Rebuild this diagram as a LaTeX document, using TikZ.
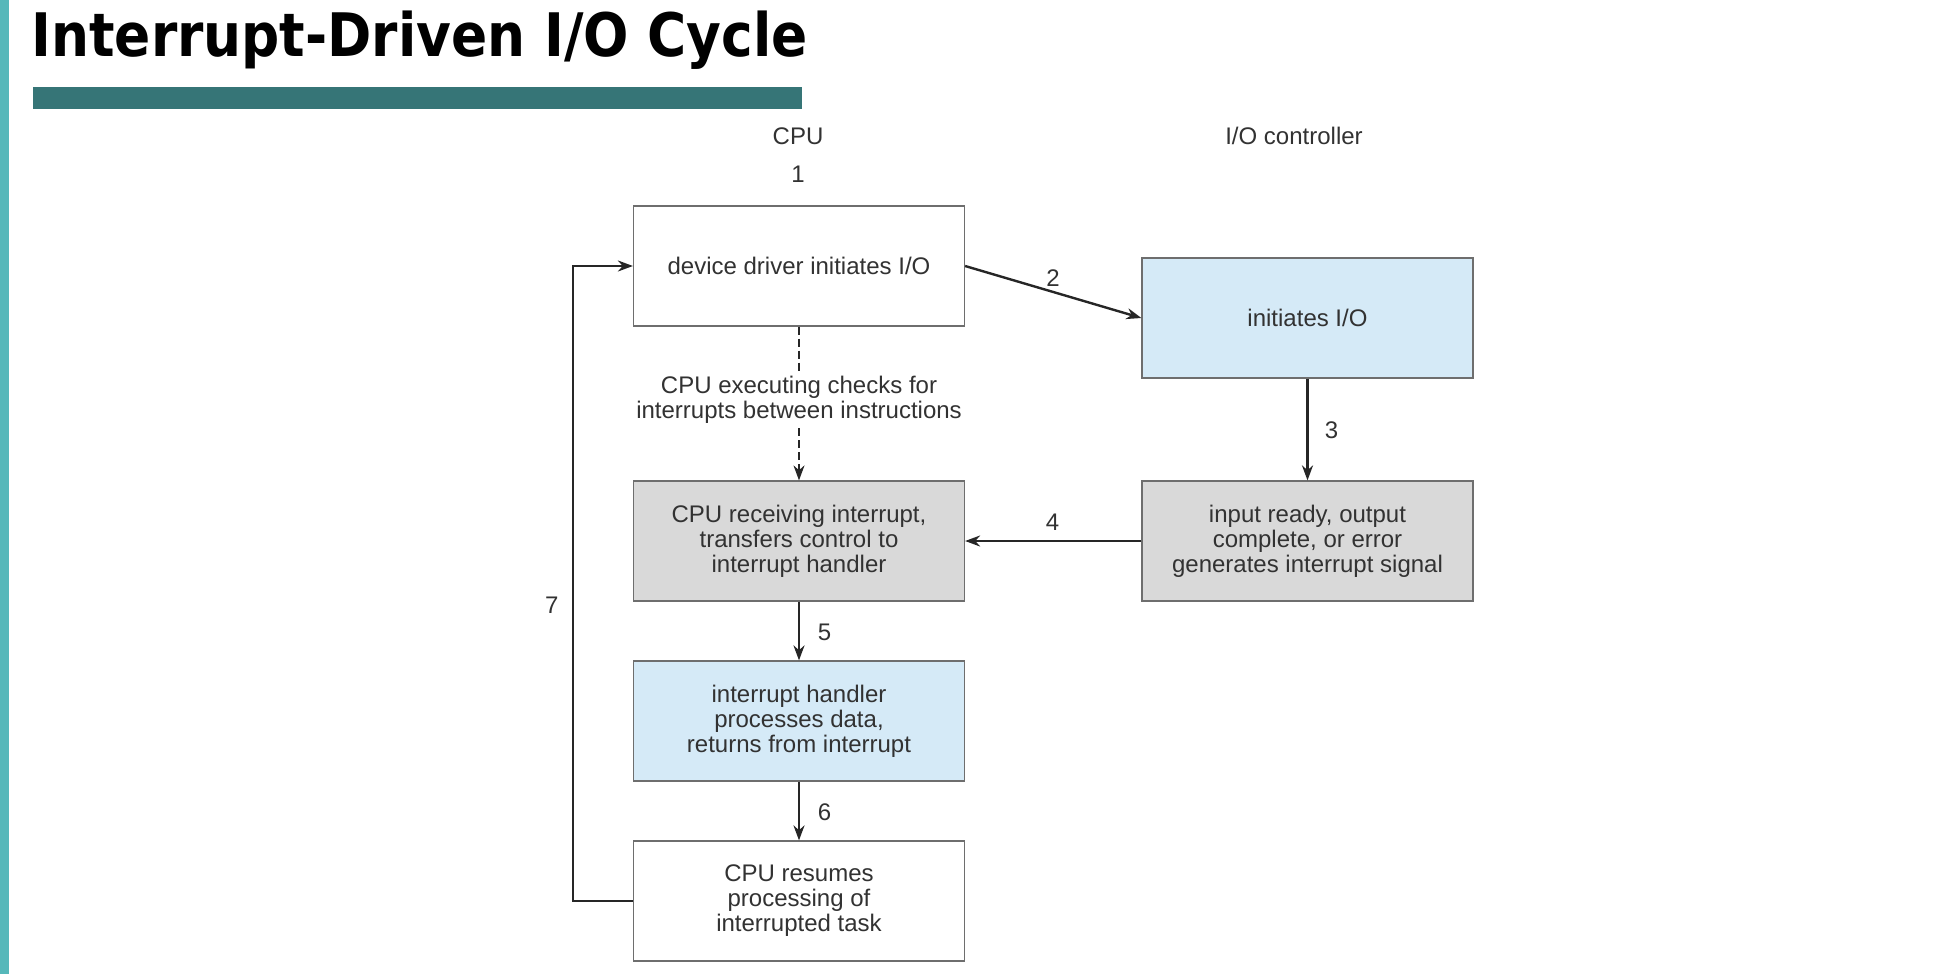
\documentclass[tikz,border=0pt]{standalone}
\usepackage{fontspec}
\setmainfont{Liberation Sans}
\newfontfamily\titlefont{DejaVu Sans}
\usetikzlibrary{arrows.meta}
\definecolor{barteal}{RGB}{54,117,119}
\definecolor{sideteal}{RGB}{86,184,186}
\definecolor{boxblue}{RGB}{213,234,247}
\definecolor{boxgray}{RGB}{217,217,217}
\definecolor{boxline}{RGB}{110,110,110}
\definecolor{txt}{RGB}{50,50,50}

\begin{document}
\begin{tikzpicture}[x=0.5pt,y=-0.5pt,
	stepbox/.style={draw=boxline,line width=0.6pt,minimum width=165.5pt,minimum height=60pt,inner sep=0,align=center,text=txt,font=\fontsize{12}{12.5}\selectfont},
	caption/.style={inner sep=0,text=txt,font=\fontsize{12}{12.5}\selectfont},
	arrow/.style={line width=1.2pt,draw=black!85,-{Stealth[length=7.5pt,width=5.5pt]}}]
	\useasboundingbox (0,0) rectangle (1944,974);
	\fill[sideteal] (0,0) rectangle (9,974);
	\node[anchor=base west,inner sep=0,font=\titlefont\bfseries\fontsize{30}{30}\selectfont] (title) at (31,57) {\scalebox{0.89}[1]{Interrupt-Driven I/O Cycle}};
	\fill[barteal] (33,87) rectangle (802,109);
	\node[caption] (cpu) at (798,136) {CPU};
	\node[caption] (io) at (1294,136) {I/O controller};
	\node[caption] (n1) at (798,174) {1};
	\node[stepbox,fill=white] (1) at (799,266) {device driver initiates I/O};
	\node[stepbox,fill=boxblue] (2) at (1307.5,318) {initiates I/O};
	\node[stepbox,fill=boxgray] (3) at (1307.5,541) {input ready, output\\complete, or error\\generates interrupt signal};
	\node[stepbox,fill=boxgray] (4) at (799,541) {CPU receiving interrupt,\\transfers control to\\interrupt handler};
	\node[stepbox,fill=boxblue] (5) at (799,721) {interrupt handler\\processes data,\\returns from interrupt};
	\node[stepbox,fill=white] (6) at (799,901) {CPU resumes\\processing of\\interrupted task};
	\node[caption,align=center,inner sep=2pt] (checks) at (799,400) {CPU executing checks for\\interrupts between instructions};
	\coordinate (loop) at (573,901);
	\draw[arrow] (1.east) -- (2.west);
	\draw[arrow] (2.south) -- (3.north);
	\draw[arrow] (3.west) -- (4.east);
	\draw[arrow] (4.south) -- (5.north);
	\draw[arrow] (5.south) -- (6.north);
	\draw[arrow] (6.west) -- (loop) |- (1.west);
	\draw[line width=0.9pt,draw=black!85,dash pattern=on 4pt off 2pt] (1.south) -- (checks.north);
	\draw[arrow,line width=0.9pt,dash pattern=on 4pt off 2pt] (checks.south) -- (4.north);
	\node[caption] (l2) at (1053,278) {2};
	\node[caption] (l3) at (1331.5,430) {3};
	\node[caption] (l4) at (1052.6,522) {4};
	\node[caption] (l5) at (824.5,632) {5};
	\node[caption] (l6) at (824.5,812) {6};
	\node[caption] (l7) at (551.7,605) {7};
\end{tikzpicture}
\end{document}
